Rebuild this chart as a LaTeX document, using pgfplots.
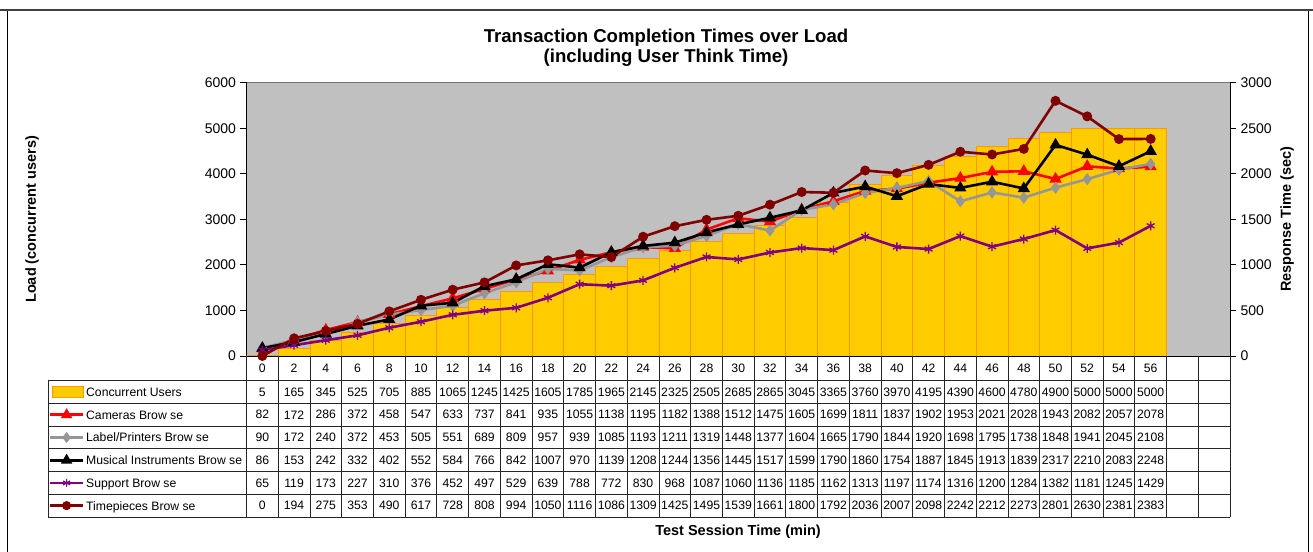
\documentclass[border=0pt]{standalone}
\usepackage{pgfplots}
\pgfplotsset{compat=1.18}
\usepackage{pgfplotstable}
\usepackage{fontspec}
\setmainfont{Liberation Sans}
\definecolor{plotbg}{HTML}{C0C0C0}
\definecolor{barfill}{HTML}{FFCC00}
\definecolor{baredge}{HTML}{FF9900}
\definecolor{camred}{HTML}{FF0000}
\definecolor{labgray}{HTML}{969696}
\definecolor{suppurple}{HTML}{800080}
\definecolor{timered}{HTML}{800000}

\pgfplotstableread{
t users cameras labels musical support timepieces
0 5 82 90 86 65 0
2 165 172 172 153 119 194
4 345 286 240 242 173 275
6 525 372 372 332 227 353
8 705 458 453 402 310 490
10 885 547 505 552 376 617
12 1065 633 551 584 452 728
14 1245 737 689 766 497 808
16 1425 841 809 842 529 994
18 1605 935 957 1007 639 1050
20 1785 1055 939 970 788 1116
22 1965 1138 1085 1139 772 1086
24 2145 1195 1193 1208 830 1309
26 2325 1182 1211 1244 968 1425
28 2505 1388 1319 1356 1087 1495
30 2685 1512 1448 1445 1060 1539
32 2865 1475 1377 1517 1136 1661
34 3045 1605 1604 1599 1185 1800
36 3365 1699 1665 1790 1162 1792
38 3760 1811 1790 1860 1313 2036
40 3970 1837 1844 1754 1197 2007
42 4195 1902 1920 1887 1174 2098
44 4390 1953 1698 1845 1316 2242
46 4600 2021 1795 1913 1200 2212
48 4780 2028 1738 1839 1284 2273
50 4900 1943 1848 2317 1382 2801
52 5000 2082 1941 2210 1181 2630
54 5000 2057 2045 2083 1245 2381
56 5000 2078 2108 2248 1429 2383
}\data

\newcommand\tabfont{\fontsize{12.2}{14}\selectfont}
\newcommand\tickfont{\fontsize{14}{16}\selectfont}
\newcommand\labfont{\bfseries\fontsize{14.5}{17}\selectfont}

\pgfplotsset{
  tabrow/.style={draw=none, mark=none, nodes near coords,
    point meta=explicit symbolic, nodes near coords align=center,
    every node near coord/.append style={font=\tabfont, inner sep=0pt, anchor=center}},
  serline/.style={line width=2.6pt, mark options={solid}},
}

\begin{document}
\begin{tikzpicture}[x=1pt,y=1pt]
\useasboundingbox (0,0) rectangle (1313,551);
% frame
\draw[line width=1.2pt, black] (7.5,541) -- (7.5,-5);
\draw[line width=1.2pt, black] (1308.5,541) -- (1308.5,-5);
\draw[line width=2pt, black!75] (0,541) -- (1313,541);

% primary axis: load bars
\begin{axis}[
  at={(246.5pt,195pt)}, anchor=south west, scale only axis,
  width=983.5pt, height=273.3pt,
  xmin=-0.5, xmax=30.5, ymin=0, ymax=6000,
  axis x line*=bottom, axis y line*=left,
  axis line style={black, line width=0.9pt},
  axis background/.style={fill=plotbg, draw=black!55},
  xtick=\empty,
  ytick={0,1000,...,6000},
  tick align=outside, major tick length=6pt,
  ytick style={black, line width=0.8pt},
  /pgf/number format/assume math mode=true,
  /pgf/number format/1000 sep={},
  yticklabel style={font=\tickfont, xshift=-1pt},
  every axis y label/.style={at={(axis description cs:-0.2181,0.5)}, rotate=90, anchor=center, font=\labfont},
  ylabel={Load (concurrent users)},
]
\addplot[ybar, bar width=1, fill=barfill, draw=baredge, line width=0.8pt]
  table[x expr=\thisrow{t}/2, y=users] {\data};
\end{axis}

% secondary axis: response times
\begin{axis}[
  at={(246.5pt,195pt)}, anchor=south west, scale only axis,
  width=983.5pt, height=273.3pt,
  xmin=-0.5, xmax=30.5, ymin=0, ymax=3000,
  axis x line=none, axis y line*=right,
  axis line style={black, line width=0.9pt},
  ytick={0,500,...,3000},
  tick align=outside, major tick length=6pt,
  ytick style={black, line width=0.8pt},
  /pgf/number format/assume math mode=true,
  /pgf/number format/1000 sep={},
  yticklabel style={font=\tickfont, xshift=1pt},
  every axis y label/.style={at={(axis description cs:1.058,0.5)}, rotate=90, anchor=center, font=\labfont},
  ylabel={Response Time (sec)},
  clip=false,
]
\addplot[serline, camred, mark=triangle*, mark size=4.5pt]
  table[x expr=\thisrow{t}/2, y=cameras] {\data};
\addplot[serline, labgray, mark=diamond*, mark size=4pt]
  table[x expr=\thisrow{t}/2, y=labels] {\data};
\addplot[serline, black, mark=triangle*, mark size=4.5pt]
  table[x expr=\thisrow{t}/2, y=musical] {\data};
\addplot[serline, suppurple, mark=asterisk, mark size=4.5pt, mark options={line width=1.3pt}]
  table[x expr=\thisrow{t}/2, y=support] {\data};
\addplot[serline, timered, mark=*, mark size=3.6pt]
  table[x expr=\thisrow{t}/2, y=timepieces] {\data};
\end{axis}

% data table
\begin{axis}[
  at={(246.5pt,34pt)}, anchor=south west, scale only axis,
  width=983.5pt, height=161pt,
  xmin=-0.5, xmax=30.5, ymin=356, ymax=517, y dir=reverse,
  axis line style={draw=none},
  xtick={-0.5,0.5,...,30.5},
  ytick={380.7,403.417,426.133,448.85,471.567,494.283,517},
  xticklabels={}, yticklabels={},
  major tick length=0pt,
  grid=major, major grid style={black!85, line width=0.8pt},
  clip=false,
]
\addplot[tabrow] table[x expr=\thisrow{t}/2, y expr=368.35, meta=t] {\data};
\addplot[tabrow] table[x expr=\thisrow{t}/2, y expr=392.06, meta=users] {\data};
\addplot[tabrow] table[x expr=\thisrow{t}/2, y expr=414.78, meta=cameras] {\data};
\addplot[tabrow] table[x expr=\thisrow{t}/2, y expr=437.49, meta=labels] {\data};
\addplot[tabrow] table[x expr=\thisrow{t}/2, y expr=460.21, meta=musical] {\data};
\addplot[tabrow] table[x expr=\thisrow{t}/2, y expr=482.93, meta=support] {\data};
\addplot[tabrow] table[x expr=\thisrow{t}/2, y expr=505.64, meta=timepieces] {\data};

% legend column grid
\draw[black!85, line width=0.8pt] (axis cs:-6.7567,380.7) -- (axis cs:-0.5,380.7);
\draw[black!85, line width=0.8pt] (axis cs:-6.7567,403.417) -- (axis cs:-0.5,403.417);
\draw[black!85, line width=0.8pt] (axis cs:-6.7567,426.133) -- (axis cs:-0.5,426.133);
\draw[black!85, line width=0.8pt] (axis cs:-6.7567,448.85) -- (axis cs:-0.5,448.85);
\draw[black!85, line width=0.8pt] (axis cs:-6.7567,471.567) -- (axis cs:-0.5,471.567);
\draw[black!85, line width=0.8pt] (axis cs:-6.7567,494.283) -- (axis cs:-0.5,494.283);
\draw[black!85, line width=0.8pt] (axis cs:-6.7567,517) -- (axis cs:-0.5,517);
\draw[black!85, line width=0.8pt] (axis cs:-6.7567,380.7) -- (axis cs:-6.7567,517);

% legend keys
\draw[baredge, fill=barfill, line width=0.8pt] (axis cs:-6.63,386.5) rectangle (axis cs:-5.65,397.5);
\addplot[serline, camred, mark=triangle*, mark size=4pt, mark indices={2}]
  coordinates {(-6.69,414.78) (-6.17,414.78) (-5.65,414.78)};
\addplot[serline, labgray, mark=diamond*, mark size=3.5pt, mark indices={2}]
  coordinates {(-6.69,437.49) (-6.17,437.49) (-5.65,437.49)};
\addplot[serline, black, mark=triangle*, mark size=4pt, mark indices={2}]
  coordinates {(-6.69,460.21) (-6.17,460.21) (-5.65,460.21)};
\addplot[serline, suppurple, mark=asterisk, mark size=4pt, mark indices={2}, mark options={line width=1.2pt}]
  coordinates {(-6.69,482.93) (-6.17,482.93) (-5.65,482.93)};
\addplot[serline, timered, mark=*, mark size=3.2pt, mark indices={2}]
  coordinates {(-6.69,505.64) (-6.17,505.64) (-5.65,505.64)};

\node[anchor=base west, inner sep=0pt, font=\tabfont] at (axis cs:-5.56,396.4) {Concurrent Users};
\node[anchor=base west, inner sep=0pt, font=\tabfont] at (axis cs:-5.56,419.1) {Cameras Brow se};
\node[anchor=base west, inner sep=0pt, font=\tabfont] at (axis cs:-5.56,441.8) {Label/Printers Brow se};
\node[anchor=base west, inner sep=0pt, font=\tabfont] at (axis cs:-5.56,464.5) {Musical Instruments Brow se};
\node[anchor=base west, inner sep=0pt, font=\tabfont] at (axis cs:-5.56,487.2) {Support Brow se};
\node[anchor=base west, inner sep=0pt, font=\tabfont] at (axis cs:-5.56,510.0) {Timepieces Brow se};
\end{axis}

% titles
\node[anchor=base, inner sep=0pt, font=\bfseries\fontsize{18.6}{20}\selectfont] at (666,508) {Transaction Completion Times over Load};
\node[anchor=base, inner sep=0pt, font=\bfseries\fontsize{18.6}{20}\selectfont] at (666,488) {(including User Think Time)};
\node[anchor=base, inner sep=0pt, font=\labfont] at (738,16) {Test Session Time (min)};
\end{tikzpicture}
\end{document}
